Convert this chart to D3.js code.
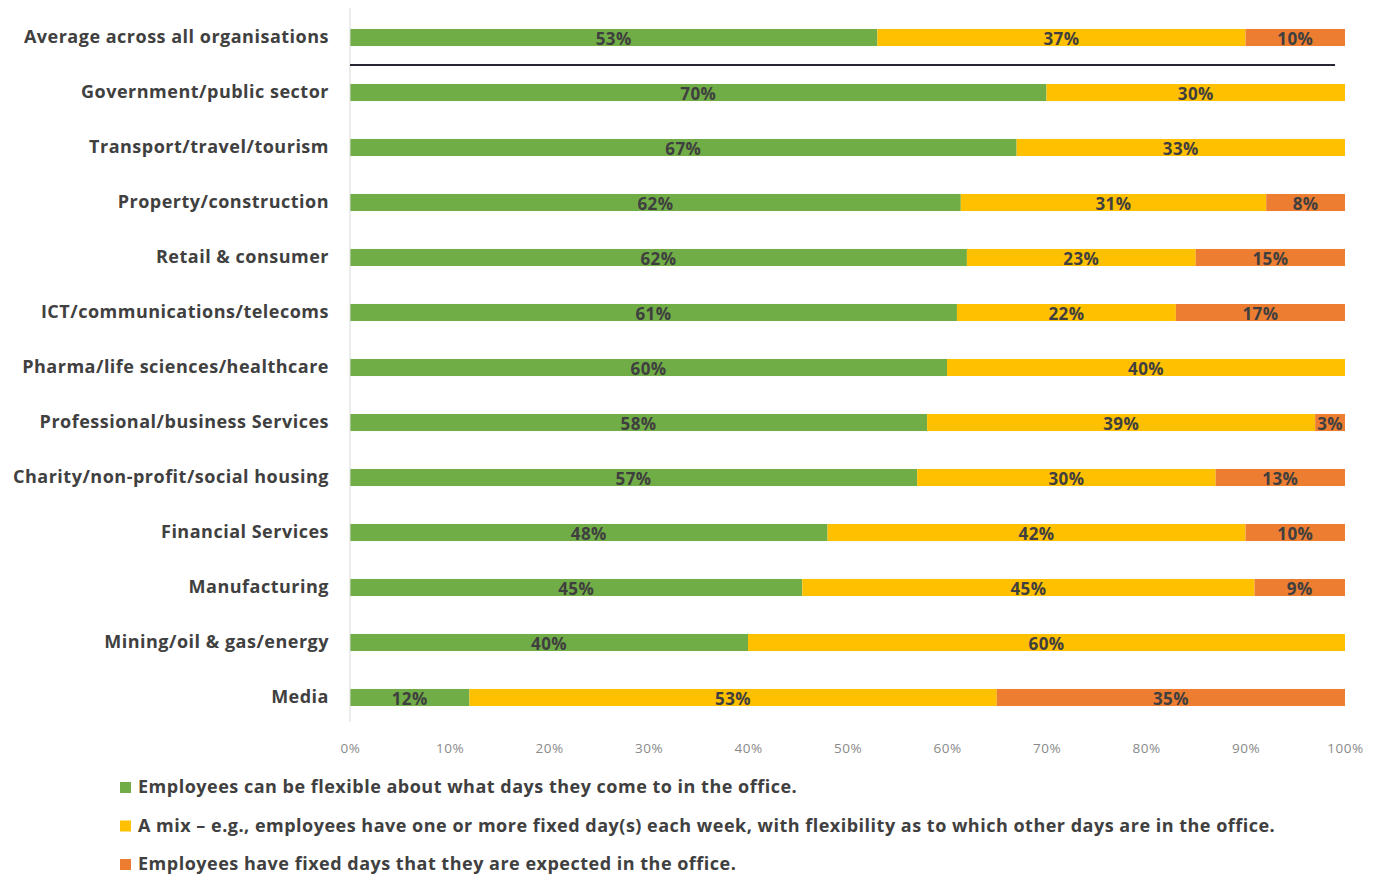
<!DOCTYPE html>
<html>
<head>
<meta charset="utf-8">
<script src="https://cdn.jsdelivr.net/npm/d3@7"></script>
<style>
  html, body { margin: 0; padding: 0; background: #ffffff; }
  svg { display: block; }
  text { font-family: "Open Sans", Lato, sans-serif; }
</style>
</head>
<body>
<svg id="chart" width="1380" height="877"></svg>
<script>
// Sector names, top to bottom
const categories = [
  "Average across all organisations",
  "Government/public sector",
  "Transport/travel/tourism",
  "Property/construction",
  "Retail & consumer",
  "ICT/communications/telecoms",
  "Pharma/life sciences/healthcare",
  "Professional/business Services",
  "Charity/non-profit/social housing",
  "Financial Services",
  "Manufacturing",
  "Mining/oil & gas/energy",
  "Media"
];

// Share of organisations (%) per office-attendance policy
const flexibleDays = [53, 70, 67, 62, 62, 61, 60, 58, 57, 48, 45, 40, 12];
const mixedDays    = [37, 30, 33, 31, 23, 22, 40, 39, 30, 42, 45, 60, 53];
const fixedDays    = [10,  0,  0,  8, 15, 17,  0,  3, 13, 10,  9,  0, 35];

const seriesNames = [
  "Employees can be flexible about what days they come to in the office.",
  "A mix \u2013 e.g., employees have one or more fixed day(s) each week, with flexibility as to which other days are in the office.",
  "Employees have fixed days that they are expected in the office."
];
const seriesKeys = ["flexible", "mixed", "fixed"];
const seriesColors = ["#70AD47", "#FFC000", "#ED7D31"];

const tickValues = [0, 0.1, 0.2, 0.3, 0.4, 0.5, 0.6, 0.7, 0.8, 0.9, 1.0];

// Table built from the arrays, each row normalised to 100% like a 100% stacked bar
const rows = categories.map((c, i) => {
  const total = flexibleDays[i] + mixedDays[i] + fixedDays[i];
  return {
    category: c,
    flexible: flexibleDays[i] / total,
    mixed: mixedDays[i] / total,
    fixed: fixedDays[i] / total,
    raw: { flexible: flexibleDays[i], mixed: mixedDays[i], fixed: fixedDays[i] }
  };
});

const svg = d3.select("#chart");
const plotLeft = 350, plotRight = 1345, plotTop = 10, plotBottom = 725;
const fontStack = "'Open Sans', Lato, sans-serif";

const x = d3.scaleLinear().domain([0, 1]).range([plotLeft, plotRight]);
const y = d3.scaleBand().domain(categories).range([plotTop, plotBottom])
  .paddingInner(0.69).paddingOuter(0.345);

const stack = d3.stack().keys(seriesKeys);
const stacked = stack(rows);

// Bars
const layers = svg.append("g").selectAll("g")
  .data(stacked)
  .join("g")
  .attr("fill", (d, i) => seriesColors[i]);

layers.selectAll("rect")
  .data(d => d.map(p => Object.assign(p, { key: d.key })))
  .join("rect")
  .attr("x", d => x(d[0]))
  .attr("width", d => Math.max(0, x(d[1]) - x(d[0])))
  .attr("y", d => y(d.data.category))
  .attr("height", y.bandwidth());

// Value labels centred in each segment
layers.selectAll("text")
  .data(d => d.filter(p => p.data.raw[d.key] > 0))
  .join("text")
  .attr("x", d => (x(d[0]) + x(d[1])) / 2)
  .attr("y", d => y(d.data.category) + y.bandwidth() / 2 + 1)
  .attr("dy", "0.36em")
  .attr("text-anchor", "middle")
  .attr("fill", "#3f3f3f")
  .attr("font-size", 17)
  .attr("font-weight", 700)
  .attr("letter-spacing", 0.4)
  .text(d => d.data.raw[d.key] + "%");

// Vertical category axis line
svg.append("line")
  .attr("x1", plotLeft).attr("x2", plotLeft)
  .attr("y1", plotTop - 2).attr("y2", plotBottom - 3)
  .attr("stroke", "#d9d9d9").attr("stroke-width", 1);

// Separator under the overall average
const sepY = (y(categories[0]) + y.bandwidth() + y(categories[1])) / 2;
svg.append("line")
  .attr("x1", plotLeft).attr("x2", x(0.99))
  .attr("y1", sepY).attr("y2", sepY)
  .attr("stroke", "#262633").attr("stroke-width", 2);

// Category labels
const yAxis = svg.append("g")
  .attr("transform", `translate(${plotLeft},0)`)
  .call(d3.axisLeft(y).tickSize(0).tickPadding(21));
yAxis.select(".domain").remove();
yAxis.selectAll("text")
  .attr("font-family", fontStack)
  .attr("font-size", 18)
  .attr("font-weight", 700)
  .attr("letter-spacing", 0.5)
  .attr("fill", "#404040");

// Percentage axis
const xAxis = svg.append("g")
  .attr("transform", `translate(0,${plotBottom + 12})`)
  .call(d3.axisBottom(x).tickValues(tickValues).tickFormat(d3.format(".0%")).tickSize(0).tickPadding(6));
xAxis.select(".domain").remove();
xAxis.selectAll("text")
  .attr("font-family", fontStack)
  .attr("font-size", 13.5)
  .attr("letter-spacing", 0.5)
  .attr("fill", "#8a8a8a");

// Legend
const legend = svg.append("g").selectAll("g")
  .data(seriesNames)
  .join("g")
  .attr("transform", (d, i) => `translate(120,${787 + i * 38.5})`);
legend.append("rect")
  .attr("x", 0).attr("y", -5).attr("width", 11).attr("height", 11)
  .attr("fill", (d, i) => seriesColors[i]);
legend.append("text")
  .attr("x", 18).attr("y", 0).attr("dy", "0.36em")
  .attr("font-size", 18)
  .attr("font-weight", 700)
  .attr("letter-spacing", 0.5)
  .attr("fill", "#404040")
  .text(d => d);
</script>
</body>
</html>
